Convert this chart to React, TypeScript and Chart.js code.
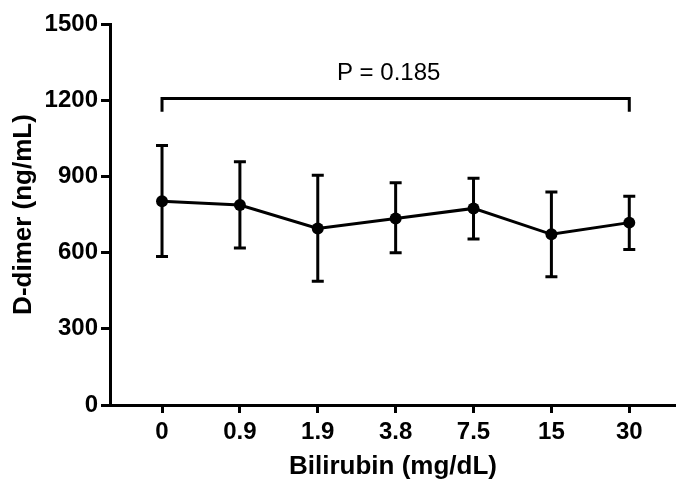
import React, { useEffect, useRef } from "react";
import { Chart, registerables } from "chart.js";

Chart.register(...registerables);

const categories = ["0", "0.9", "1.9", "3.8", "7.5", "15", "30"];
const meanValues = [802, 787, 695, 734, 774, 672, 718];
const upperValues = [1022, 958, 905, 875, 893, 839, 822];
const lowerValues = [585, 618, 487, 599, 654, 505, 612];
const yTicks = [0, 300, 600, 900, 1200, 1500];

const bracketTop = 1207;
const bracketEnd = 1155;
const pLabel = "P = 0.185";
const pLabelValue = 1305;
const pLabelIndex = 2.91;

const FONT = "'Liberation Sans', Arial, Helvetica, sans-serif";

const errorBarPlugin = {
  id: "errorBars",
  afterDatasetsDraw(chart: any) {
    const { ctx, scales } = chart;
    const x = scales.x;
    const y = scales.y;
    ctx.save();
    ctx.strokeStyle = "#000";
    ctx.lineWidth = 3;
    ctx.lineCap = "butt";
    const cap = 6;
    meanValues.forEach((_, i) => {
      const px = x.getPixelForValue(i);
      const pu = y.getPixelForValue(upperValues[i]);
      const pl = y.getPixelForValue(lowerValues[i]);
      ctx.beginPath();
      ctx.moveTo(px, pu);
      ctx.lineTo(px, pl);
      ctx.moveTo(px - cap, pu);
      ctx.lineTo(px + cap, pu);
      ctx.moveTo(px - cap, pl);
      ctx.lineTo(px + cap, pl);
      ctx.stroke();
    });
    // significance bracket
    const x0 = x.getPixelForValue(0);
    const x1 = x.getPixelForValue(categories.length - 1);
    const yt = y.getPixelForValue(bracketTop);
    const ye = y.getPixelForValue(bracketEnd);
    ctx.lineWidth = 3;
    ctx.lineJoin = "miter";
    ctx.beginPath();
    ctx.moveTo(x0, ye);
    ctx.lineTo(x0, yt);
    ctx.lineTo(x1, yt);
    ctx.lineTo(x1, ye);
    ctx.stroke();
    ctx.fillStyle = "#000";
    ctx.font = `24px ${FONT}`;
    ctx.textAlign = "center";
    ctx.textBaseline = "middle";
    ctx.fillText(pLabel, x.getPixelForValue(pLabelIndex), y.getPixelForValue(pLabelValue));
    ctx.restore();
  },
};

export default function App() {
  const ref = useRef<HTMLCanvasElement | null>(null);
  useEffect(() => {
    if (!ref.current) return;
    const chart = new Chart(ref.current, {
      type: "line",
      data: {
        datasets: [
          {
            data: meanValues.map((v, i) => ({ x: i, y: v })),
            borderColor: "#000",
            backgroundColor: "#000",
            borderWidth: 3,
            pointRadius: 6,
            pointBackgroundColor: "#000",
            pointBorderColor: "#000",
            pointBorderWidth: 0,
            tension: 0,
            clip: false,
          },
        ],
      },
      plugins: [errorBarPlugin],
      options: {
        responsive: false,
        animation: false,
        devicePixelRatio: 1,
        layout: { autoPadding: false, padding: { top: 24, right: 0, left: 0, bottom: 0 } },
        plugins: {
          legend: { display: false },
          tooltip: { enabled: false },
        },
        scales: {
          x: {
            type: "linear",
            min: -0.668,
            max: 6.6,
            afterFit: (scale: any) => {
              scale.height = 76;
              scale.paddingLeft = 0;
              scale.paddingRight = 0;
            },
            afterBuildTicks: (scale: any) => {
              scale.ticks = categories.map((_, i) => ({ value: i }));
            },
            ticks: {
              autoSkip: false,
              maxRotation: 0,
              padding: 5,
              color: "#000",
              font: { family: FONT, size: 24, weight: "bold" },
              callback: (v: any) => categories[v as number] ?? "",
            },
            grid: {
              display: true,
              drawOnChartArea: false,
              drawTicks: true,
              tickLength: 8,
              color: "#000",
              lineWidth: 3,
            },
            border: { display: true, color: "#000", width: 3 },
            title: {
              display: true,
              text: "Bilirubin (mg/dL)",
              color: "#000",
              font: { family: FONT, size: 26, weight: "bold", lineHeight: 1.1 },
              padding: { top: 0, bottom: 0 },
            },
          },
          y: {
            type: "linear",
            min: 0,
            max: 1500,
            afterFit: (scale: any) => {
              scale.width = 110;
              scale.paddingTop = 0;
              scale.paddingBottom = 0;
            },
            afterBuildTicks: (scale: any) => {
              scale.ticks = yTicks.map((v) => ({ value: v }));
            },
            ticks: {
              padding: 3,
              color: "#000",
              font: { family: FONT, size: 24, weight: "bold" },
              callback: (v: any) => String(v),
            },
            grid: {
              display: true,
              drawOnChartArea: false,
              drawTicks: true,
              tickLength: 9,
              color: "#000",
              lineWidth: 3,
            },
            border: { display: true, color: "#000", width: 3 },
            title: {
              display: true,
              text: "D-dimer (ng/mL)",
              color: "#000",
              font: { family: FONT, size: 26, weight: "bold", lineHeight: 1.1 },
              padding: { top: 10, bottom: 0 },
            },
          },
        },
      },
    });
    return () => chart.destroy();
  }, []);
  return (
    <div style={{ position: "absolute", left: 0, top: 0, width: 676, height: 481, background: "#fff" }}>
      <canvas ref={ref} width={676} height={481} style={{ display: "block" }} />
    </div>
  );
}
